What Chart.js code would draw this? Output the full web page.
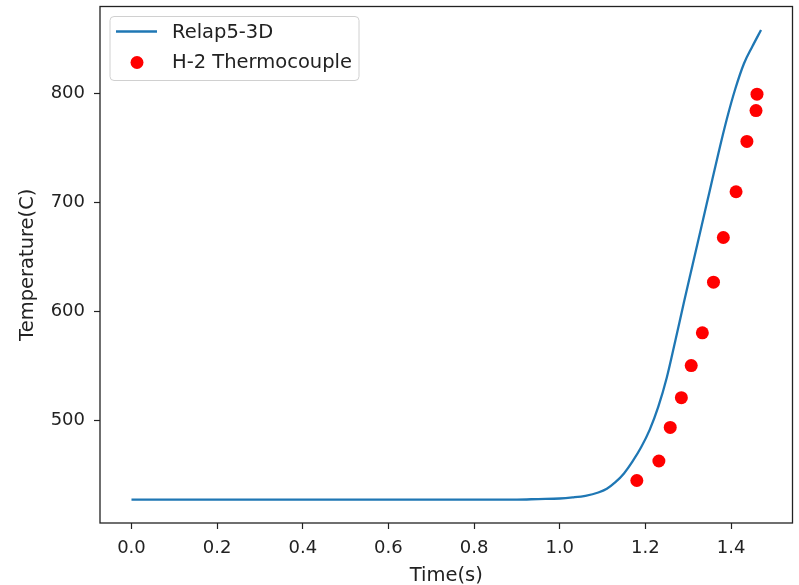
<!DOCTYPE html>
<html>
<head>
<meta charset="utf-8">
<script src="https://cdn.jsdelivr.net/npm/chart.js@4"></script>
<style>
  body { margin: 0; background: #fff; }
  canvas { display: block; }
</style>
</head>
<body>
<canvas id="tempChart" width="799" height="585"></canvas>
<script>
// Relap5-3D calculation
const relapTime = [0.0, 0.2, 0.4, 0.6, 0.8, 0.9, 0.95, 1.0, 1.03, 1.06, 1.09, 1.11, 1.13, 1.15, 1.17, 1.19,
  1.21, 1.23, 1.25, 1.27, 1.29, 1.31, 1.33, 1.35, 1.37, 1.39, 1.41, 1.43, 1.45, 1.47];
const relapTemp = [427, 427, 427, 427, 427, 427, 427.5, 428, 429, 430.5, 433.5, 437, 443, 451, 462, 475,
  491, 512, 539, 573, 608, 642, 676, 710, 744, 776, 804, 827, 843, 858];

// H-2 thermocouple measurements
const tcTime = [1.180, 1.2315, 1.258, 1.284, 1.307, 1.333, 1.359, 1.382, 1.4117, 1.437, 1.4583, 1.4606];
const tcTemp = [444.5, 462.4, 493.2, 520.5, 550, 580, 626.5, 667.5, 709.5, 755.7, 784, 799];

const xTicks = [0.0, 0.2, 0.4, 0.6, 0.8, 1.0, 1.2, 1.4];
const yTicks = [500, 600, 700, 800];

const seriesNames = ["Relap5-3D", "H-2 Thermocouple"];

const FONT = "'DejaVu Sans', sans-serif";
const INK = "#222";

const toPoints = (xs, ys) => xs.map((x, i) => ({ x: x, y: ys[i] }));

// matplotlib-style box around the axes
const frame = {
  id: "frame",
  afterDatasetsDraw(chart) {
    const a = chart.chartArea;
    const ctx = chart.ctx;
    ctx.save();
    ctx.strokeStyle = INK;
    ctx.lineWidth = 1.3;
    ctx.strokeRect(a.left, a.top, a.right - a.left, a.bottom - a.top);
    ctx.restore();
  }
};

// legend box in the upper left corner of the axes
const boxLegend = {
  id: "boxLegend",
  afterDraw(chart) {
    const ctx = chart.ctx;
    const a = chart.chartArea;
    const x = a.left + 10, y = a.top + 10, w = 249, h = 64;
    ctx.save();
    ctx.fillStyle = "rgba(255,255,255,0.8)";
    ctx.strokeStyle = "#d0d0d0";
    ctx.lineWidth = 1;
    ctx.beginPath();
    ctx.roundRect(x, y, w, h, 4);
    ctx.fill();
    ctx.stroke();

    const line = chart.data.datasets[0];
    ctx.strokeStyle = line.borderColor;
    ctx.lineWidth = line.borderWidth;
    ctx.beginPath();
    ctx.moveTo(x + 6, y + 15);
    ctx.lineTo(x + 47, y + 15);
    ctx.stroke();

    const dots = chart.data.datasets[1];
    ctx.fillStyle = dots.backgroundColor;
    ctx.beginPath();
    ctx.arc(x + 27, y + 46, dots.pointRadius, 0, Math.PI * 2);
    ctx.fill();

    ctx.fillStyle = INK;
    ctx.font = "19.5px " + FONT;
    ctx.textBaseline = "middle";
    ctx.fillText(line.label, x + 62, y + 16);
    ctx.fillText(dots.label, x + 62, y + 46);
    ctx.restore();
  }
};

new Chart(document.getElementById("tempChart"), {
  type: "scatter",
  data: {
    datasets: [
      {
        label: seriesNames[0],
        data: toPoints(relapTime, relapTemp),
        showLine: true,
        borderColor: "#1f77b4",
        borderWidth: 2.3,
        pointRadius: 0,
        cubicInterpolationMode: "monotone"
      },
      {
        label: seriesNames[1],
        data: toPoints(tcTime, tcTemp),
        backgroundColor: "#ff0000",
        borderWidth: 0,
        pointRadius: 6.5
      }
    ]
  },
  options: {
    responsive: false,
    animation: false,
    layout: { padding: { top: 6, right: 3, left: 0, bottom: 0 } },
    plugins: {
      legend: { display: false },
      tooltip: { enabled: false }
    },
    scales: {
      x: {
        type: "linear",
        min: -0.0735,
        max: 1.5435,
        afterFit: (s) => { s.height = 62; s.paddingLeft = 0; s.paddingRight = 0; },
        afterBuildTicks: (s) => { s.ticks = xTicks.map((v) => ({ value: v })); },
        border: { display: false },
        grid: { drawOnChartArea: false, drawTicks: true, tickLength: 6, color: INK, tickWidth: 1.2 },
        ticks: {
          color: INK,
          padding: 9,
          maxRotation: 0,
          font: { family: FONT, size: 18 },
          callback: (v) => Number(v).toFixed(1)
        },
        title: {
          display: true,
          text: "Time(s)",
          color: INK,
          font: { family: FONT, size: 19.5 },
          padding: { top: 0, bottom: -3 }
        }
      },
      y: {
        type: "linear",
        min: 405.5,
        max: 879.5,
        afterFit: (s) => { s.width = 100; s.paddingTop = 0; s.paddingBottom = 0; },
        afterBuildTicks: (s) => { s.ticks = yTicks.map((v) => ({ value: v })); },
        border: { display: false },
        grid: { drawOnChartArea: false, drawTicks: true, tickLength: 6, color: INK, tickWidth: 1.2 },
        ticks: {
          color: INK,
          padding: 9,
          font: { family: FONT, size: 18 }
        },
        title: {
          display: true,
          text: "Temperature(C)",
          color: INK,
          font: { family: FONT, size: 19.5 },
          padding: { top: 16, bottom: 0 }
        }
      }
    }
  },
  plugins: [frame, boxLegend]
});
</script>
</body>
</html>
